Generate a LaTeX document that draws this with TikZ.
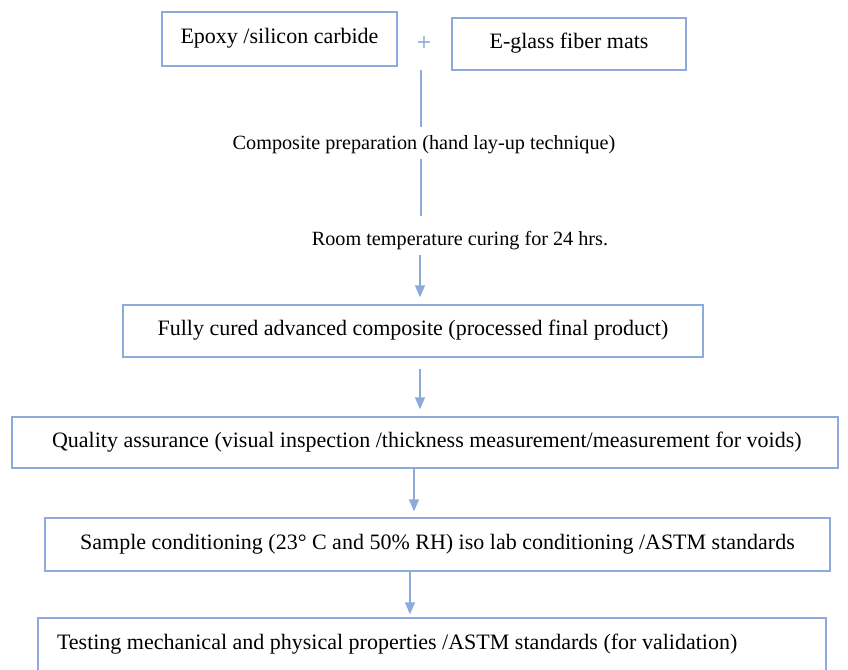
\documentclass[tikz,border=0pt]{standalone}
\usepackage{fontspec}
\setmainfont{Liberation Serif}
\newfontfamily\plusfont{DejaVu Sans}
\usetikzlibrary{arrows.meta}
\definecolor{bl}{HTML}{8EAADB}
\tikzset{
  boxnode/.style={draw=bl, line width=1.4pt, inner sep=0pt, text height=1.0em, text depth=0.05em, font=\fontsize{22}{26}\selectfont},
  lbl/.style={inner sep=0pt, font=\fontsize{20.2}{24}\selectfont},
  conn/.style={draw=bl, line width=1.4pt},
  arr/.style={conn, -{Triangle[width=10pt,length=12pt]}}
}
\begin{document}
\begin{tikzpicture}[x=1pt,y=-1pt]
\useasboundingbox (0,0) rectangle (848,669);
\clip (0,0) rectangle (848,669);
\node[boxnode, minimum width=235pt, minimum height=54pt] (b1) at (279.5,39) {Epoxy /silicon carbide};
\node[inner sep=0pt, text=bl, font=\fontsize{19}{20}\plusfont] (plus) at (424,43) {+};
\node[boxnode, minimum width=234pt, minimum height=52pt] (b2) at (569,44) {E-glass fiber mats};
\node[lbl] (l1) at (424,144.5) {Composite preparation (hand lay-up technique)};
\node[lbl] (l2) at (460,240.5) {Room temperature curing for 24 hrs.};
\node[boxnode, minimum width=580pt, minimum height=52pt] (b3) at (413,331) {Fully cured advanced composite (processed final product)};
\node[boxnode, minimum height=51pt, minimum width=826pt, inner xsep=40pt] (b4) at (425,442.5) {\makebox[746pt][l]{Quality assurance (visual inspection /thickness measurement/measurement for voids)}};
\node[boxnode, minimum width=785pt, minimum height=53pt] (b5) at (437.5,544.5) {Sample conditioning (23° C and 50\% RH) iso lab conditioning /ASTM standards};
\node[boxnode, minimum height=54pt, minimum width=788pt, inner xsep=19pt] (b6) at (432,645) {\makebox[750pt][l]{Testing mechanical and physical properties /ASTM standards (for validation)}};
\coordinate (xa) at (421,0);
\coordinate (xb) at (420,0);
\coordinate (xc) at (414,0);
\coordinate (xd) at (410,0);
\draw[conn] ([yshift=-27pt]plus.center -| xa) -- ([yshift=8pt]l1.north -| xa);
\draw[conn] ([yshift=-5pt]l1.south -| xa) -- ([yshift=15pt]l2.north -| xa);
\draw[arr] ([yshift=-5pt]l2.south -| xb) -- ([yshift=7pt]b3.north -| xb);
\draw[arr] ([yshift=-11pt]b3.south -| xb) -- ([yshift=7pt]b4.north -| xb);
\draw[arr] (b4.south -| xc) -- ([yshift=6pt]b5.north -| xc);
\draw[arr] (b5.south -| xd) -- ([yshift=3pt]b6.north -| xd);
\end{tikzpicture}
\end{document}
